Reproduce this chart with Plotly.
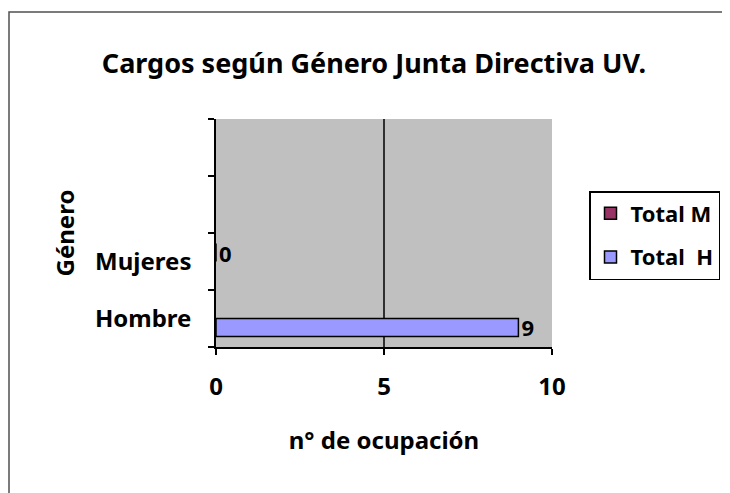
import plotly.graph_objects as go

# categories on the vertical axis (two blank slots at the top, as in the original)
categorias = ["Hombre", "Mujeres", " ", "  "]
total_h = [9, None, None, None]
total_m = [None, 0, None, None]
ticks_x = [0, 5, 10]

FONT = "Noto Sans"

# the page body adds an 8px margin, so the figure is 8px smaller than the window
OFF = 8
W, H = 730 - OFF, 493 - OFF
# plot area in window pixels: x 216-552, y 119-347
L, R, T, B = 216 - OFF, 730 - 552, 119 - OFF, 493 - 347
pw, ph = W - L - R, H - T - B


def px_x(p):
    return (p - OFF - L) / pw


def px_y(p):
    return (H - B - (p - OFF)) / ph


fig = go.Figure()
fig.add_trace(go.Bar(
    y=categorias, x=total_h, orientation="h", name="<b>Total  H</b>",
    marker=dict(color="#9999FF", line=dict(color="black", width=1.5)),
    text=["<b>9</b>", "", "", ""], textposition="outside", constraintext="none",
    textfont=dict(family=FONT, size=22, color="black"),
    legendgroup="h", legendrank=2, cliponaxis=False,
))
fig.add_trace(go.Bar(
    y=categorias, x=total_m, orientation="h", name="<b>Total M</b>",
    marker=dict(color="#993366", line=dict(color="black", width=1.5)),
    text=["", "<b>0</b>", "", ""], textposition="outside", constraintext="none",
    textfont=dict(family=FONT, size=22, color="black"),
    legendgroup="m", legendrank=1, cliponaxis=False,
))

# vertical line at 5 (the single major gridline)
fig.add_vline(x=5, line=dict(color="black", width=1.5), layer="below")

fig.update_layout(
    width=W, height=H,
    margin=dict(l=L, r=R, t=T, b=B, autoexpand=False),
    paper_bgcolor="white",
    plot_bgcolor="#C0C0C0",
    barmode="group",
    bargap=0.37,
    bargroupgap=0,
    font=dict(family=FONT, color="black"),
    title=dict(
        text="<b>Cargos según Género Junta Directiva UV.</b>",
        font=dict(family=FONT, size=27, color="black"),
        x=px_x(374), xref="paper", xanchor="center",
        y=1 - (64 - OFF) / H, yref="container", yanchor="middle",
    ),
    xaxis=dict(
        range=[0, 10], tickvals=ticks_x, ticktext=[f"<b>{v}</b>" for v in ticks_x],
        showgrid=False, zeroline=False,
        showline=True, linecolor="black", linewidth=1.5,
        ticks="outside", ticklen=6, tickwidth=1.5, tickcolor="black",
        ticklabelstandoff=11,
        tickfont=dict(family=FONT, size=24, color="black"),
        title=dict(text="<b>n° de ocupación</b>", standoff=32,
                   font=dict(family=FONT, size=24, color="black")),
    ),
    yaxis=dict(
        type="category", categoryorder="array", categoryarray=categorias,
        tickson="boundaries", ticktext=["<b>Hombre</b>", "<b>Mujeres</b>", "", ""],
        tickvals=categorias,
        showgrid=False, zeroline=False,
        showline=True, linecolor="black", linewidth=1.5,
        ticks="outside", ticklen=6, tickwidth=1.5, tickcolor="black",
        ticklabelstandoff=18,
        tickfont=dict(family=FONT, size=24, color="black"),
        title=dict(text="<b>Género</b>", standoff=14,
                   font=dict(family=FONT, size=24, color="black")),
    ),
    legend=dict(
        x=px_x(589), y=px_y(191), xanchor="left", yanchor="top",
        bordercolor="black", borderwidth=1.5, bgcolor="white",
        traceorder="grouped", tracegroupgap=12,
        font=dict(family=FONT, size=22, color="black"),
        itemwidth=30,
    ),
    shapes=[
        # grey border of the plot area (top and right)
        dict(type="rect", xref="paper", yref="paper", x0=0, x1=1, y0=0, y1=1,
             line=dict(color="#8C8C8C", width=1.5), layer="below"),
        # outer chart border, running off the page to the right and bottom
        dict(type="rect", xref="paper", yref="paper",
             x0=px_x(9), x1=px_x(760), y0=px_y(520), y1=px_y(12),
             line=dict(color="#505050", width=1.5), layer="below"),
    ],
)

fig.write_html("out.html")
